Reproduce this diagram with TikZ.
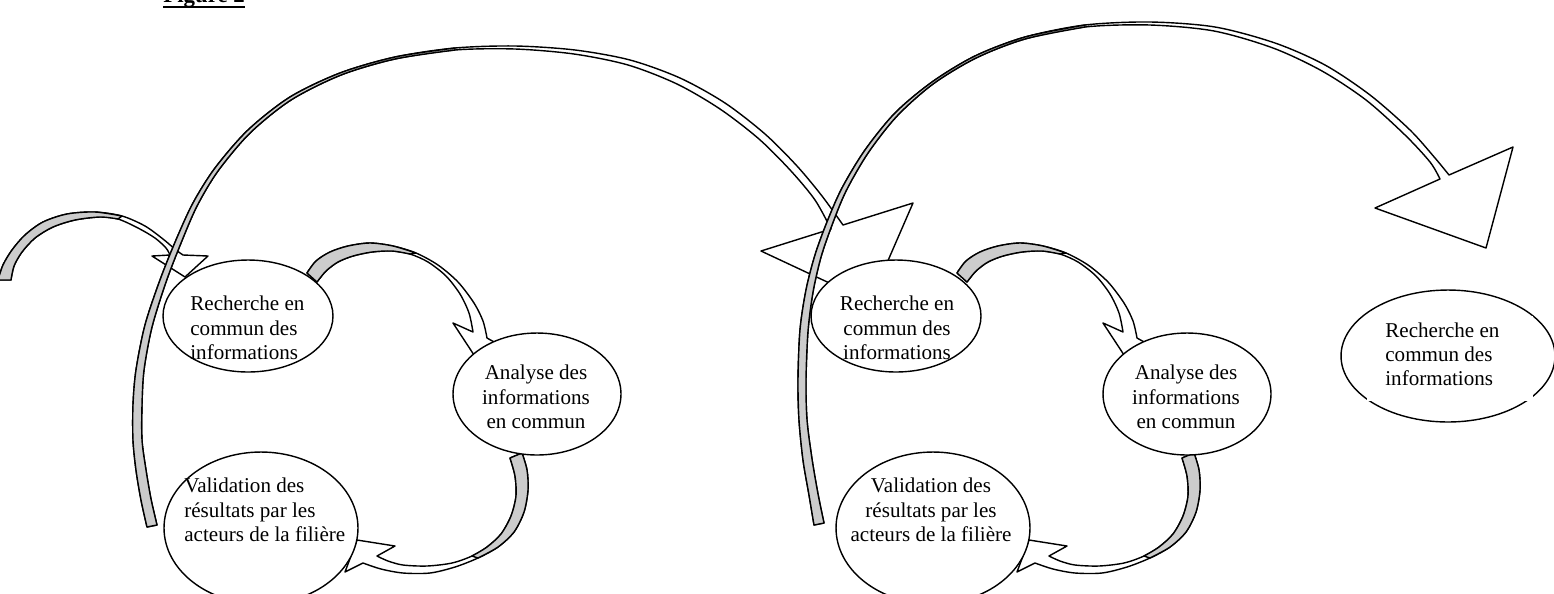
\documentclass[tikz,border=0pt]{standalone}
\usepackage{fontspec}
\setmainfont{Liberation Serif}
\usetikzlibrary{shapes.geometric,calc}
\begin{document}
\begin{tikzpicture}[x=0.02cm,y=-0.02cm,
  band/.style={draw=black,line width=0.8pt,fill=white,line join=round},
  backband/.style={band,fill=gray!40},
  bubble/.style={ellipse,draw=black,line width=0.8pt,fill=white,inner sep=0pt},
  lbl/.style={font=\fontsize{12}{13.8}\selectfont,inner sep=0pt},
  arrowA/.pic={
    \draw[band] plot[smooth] coordinates {(307,273) (316,261) (330,252) (348,246) (370,243) (393,246) (416,253) (438,265) (458,282) (474,303) (483,321) (487,338)}
      -- (503,347) -- (476,358) -- (453,323)
      -- plot[smooth] coordinates {(473,332) (469,313) (460,294) (446,276) (428,262) (410,254) (392,251) (372,252) (353,256) (338,262) (326,271) (317,282)} -- cycle;
    \draw[backband] plot[smooth] coordinates {(307,273) (316,261) (330,252) (348,246) (370,243) (393,246) (416,253)}
      -- plot[smooth] coordinates {(410,254) (392,251) (372,252) (353,256) (338,262) (326,271) (317,282)} -- cycle;
  },
  arrowB/.pic={
    \draw[band] plot[smooth] coordinates {(522,453) (527,470) (528,490) (524,512) (514,532) (498,547) (478,558) (455,567) (430,573) (403,573) (381,569) (363,563)}
      -- (345,572) -- (357,540) -- (395,546)
      -- plot[smooth] coordinates {(377,556) (388,561) (403,565) (427,566) (452,563) (472,556) (487,547) (501,534) (511,516) (516,496) (515,476) (510,458)} -- cycle;
    \draw[backband] plot[smooth] coordinates {(522,453) (527,470) (528,490) (524,512) (514,532) (498,547) (478,558)}
      -- plot[smooth] coordinates {(472,556) (487,547) (501,534) (511,516) (516,496) (515,476) (510,458)} -- cycle;
  }]
\useasboundingbox (0,0) rectangle (1554,593);
\clip (0,0) rectangle (1554,593);

% title
\node[anchor=base west,inner sep=0pt,font=\fontsize{13}{15}\selectfont\bfseries] (title) at (163,2.5) {Figure 2};
\draw[line width=1.4pt] ($(title.base west)+(0,4.5)$) -- ($(title.base east)+(0,4.5)$);

% small incoming arrow on the left
\draw[band] plot[smooth] coordinates {(-2,280) (3,265) (12,250) (25,235) (43,222) (67,214) (95,212) (122,216) (145,226) (163,239) (176,250) (183,255)}
  -- (208,256) -- (185,277) -- (152,256)
  -- plot[smooth] coordinates {(170,255) (166,248) (155,238) (138,228) (118,219) (100,217) (75,220) (53,227) (35,238) (22,252) (14,266) (11,280)} -- cycle;
\draw[backband] plot[smooth] coordinates {(-2,280) (3,265) (12,250) (25,235) (43,222) (67,214) (95,212) (122,216)}
  -- plot[smooth] coordinates {(118,219) (100,217) (75,220) (53,227) (35,238) (22,252) (14,266) (11,280)} -- cycle;

% cycle arrows
\pic (a1) at (0,0) {arrowA};
\pic (b1) at (0,0) {arrowB};
\pic (a2) at (650,0) {arrowA};
\pic (b2) at (672,0) {arrowB};

% big arc 1
\draw[band] plot[smooth] coordinates {(147,527) (141,500) (136,470) (133,440) (133,405) (136,370) (145,325) (160,280) (176,240) (193,203) (215,168) (248,130) (290,97) (340,73) (395,57) (455,48) (515,46) (575,50) (630,60) (680,78) (725,103) (765,134) (797,166) (822,196) (843,225)}
  -- (913,203) -- (870,302) -- (761,251)
  -- plot[smooth] coordinates {(831,229) (815,200) (791,171) (759,139) (720,109) (677,84) (628,65) (574,54) (515,49) (455,50) (395,59) (341,75) (291,100) (250,133) (218,171) (197,206) (181,243) (166,282) (152,327) (144,370) (142,405) (142,440) (146,470) (151,499) (157,525)} -- cycle;
\draw[backband] plot[smooth] coordinates {(147,527) (141,500) (136,470) (133,440) (133,405) (136,370) (145,325) (160,280) (176,240) (193,203) (215,168) (248,130) (290,97) (340,73) (395,57) (455,48)}
  -- plot[smooth] coordinates {(455,50) (395,59) (341,75) (291,100) (250,133) (218,171) (197,206) (181,243) (166,282) (152,327) (144,370) (142,405) (142,440) (146,470) (151,499) (157,525)} -- cycle;

% ellipses of the two cycles
\node[bubble,minimum width=3.4cm,minimum height=2.24cm] (r1) at (248,316) {};
\node[bubble,minimum width=3.36cm,minimum height=2.44cm] (an1) at (537,394) {};
\node[bubble,minimum width=3.88cm,minimum height=3.04cm] (v1) at (261,528) {};
\node[lbl,anchor=north west,align=left] (tr1) at (190,296) {Recherche en\\commun des\\informations};
\node[lbl,anchor=north,align=center] (tan1) at (536,365) {Analyse des\\informations\\en commun};
\node[lbl,anchor=north west,align=left] (tv1) at (184,478) {Validation des\\résultats par les\\acteurs de la filière};

\node[bubble,minimum width=3.4cm,minimum height=2.24cm] (r2) at (896,316) {};
\node[bubble,minimum width=3.36cm,minimum height=2.44cm] (an2) at (1187,394) {};
\node[bubble,minimum width=3.88cm,minimum height=3.04cm] (v2) at (933,528) {};
\node[lbl,anchor=north,align=center] (tr2) at (897,296) {Recherche en\\commun des\\informations};
\node[lbl,anchor=north,align=center] (tan2) at (1186,365) {Analyse des\\informations\\en commun};
\node[lbl,anchor=north,align=center] (tv2) at (931,478) {Validation des\\résultats par les\\acteurs de la filière};

% big arc 2
\draw[band] plot[smooth] coordinates {(814,525) (809,495) (803,460) (799,420) (798,380) (800,330) (806,290) (815,255) (827,222) (842,188) (865,150) (895,113) (932,82) (975,56) (1025,37) (1085,25) (1150,22) (1215,27) (1275,43) (1325,65) (1370,95) (1410,130) (1435,158) (1449,175)}
  -- (1513,147) -- (1486,248) -- (1375,208)
  -- plot[smooth] coordinates {(1440,179) (1430,162) (1405,135) (1366,100) (1322,71) (1273,48) (1214,31) (1150,25) (1085,27) (1025,39) (976,58) (933,84) (897,116) (868,153) (846,191) (832,225) (821,257) (813,292) (808,331) (806,380) (807,420) (812,459) (818,494) (824,523)} -- cycle;
\draw[backband] plot[smooth] coordinates {(814,525) (809,495) (803,460) (799,420) (798,380) (800,330) (806,290) (815,255) (827,222) (842,188) (865,150) (895,113) (932,82) (975,56) (1025,37) (1085,25)}
  -- plot[smooth] coordinates {(1085,27) (1025,39) (976,58) (933,84) (897,116) (868,153) (846,191) (832,225) (821,257) (813,292) (808,331) (806,380) (807,420) (812,459) (818,494) (824,523)} -- cycle;

% last ellipse
\node[bubble,minimum width=4.28cm,minimum height=2.64cm] (r3) at (1448,356) {};
\fill[white] (1367,316) rectangle (1533,400.5);
\node[lbl,anchor=north west,align=left] (tr3) at (1385,322.5) {Recherche en\\commun des\\informations};
\end{tikzpicture}
\end{document}
